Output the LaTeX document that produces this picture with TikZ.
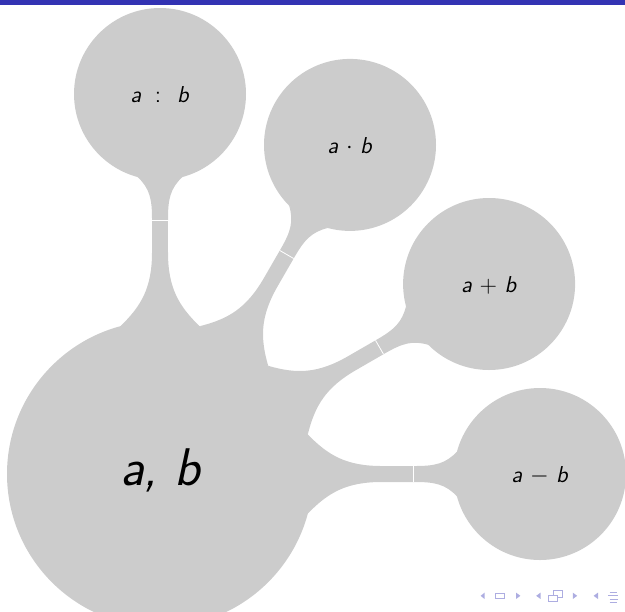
\documentclass[tikz,border=0pt]{standalone}
\usetikzlibrary{calc}
\definecolor{structblue}{RGB}{51,51,179}
\definecolor{navcol}{RGB}{173,173,225}
\tikzset{
  concept/.style={circle, fill=black!20, draw=none, inner sep=0pt,
    font=\fontsize{11.5}{14}\selectfont\sffamily, text height=8.4pt, text depth=0pt},
  childconcept/.style={concept, minimum size=86pt},
  rootconcept/.style={concept, minimum size=153pt,
    font=\fontsize{26.5}{32}\selectfont\sffamily, text height=11pt},
  barfill/.style={fill=black!20},
  seam/.style={draw=white, line width=0.4pt},
  navsym/.style={fill=navcol, draw=none},
  navline/.style={draw=navcol, line width=0.45pt},
}
% tapered connection bar between parent #1 (R=76.5pt) and child #2 (R=43pt)
\newcommand\mmbar[2]{%
  \fill[barfill] let \p1=($(#2.center)-(#1.center)$), \n1={atan2(\y1,\x1)}, \n2={\n1+180} in
    ($(#1.center)+(\n1+15:76.5pt)$)
    .. controls ($(#1.center)+(\n1+6.226:84.65pt)$) and ($(#1.center)+(\n1+2.454:93.416pt)$) ..
    ($(#1.center)+(\n1+2.065:110.997pt)$)
    -- ($(#2.center)+(\n2-3.670:62.478pt)$)
    .. controls ($(#2.center)+(\n2-4.360:52.613pt)$) and ($(#2.center)+(\n2-6.226:47.58pt)$) ..
    ($(#2.center)+(\n2-15:43pt)$)
    -- ($(#2.center)+(\n2+15:43pt)$)
    .. controls ($(#2.center)+(\n2+6.226:47.58pt)$) and ($(#2.center)+(\n2+4.360:52.613pt)$) ..
    ($(#2.center)+(\n2+3.670:62.478pt)$)
    -- ($(#1.center)+(\n1-2.065:110.997pt)$)
    .. controls ($(#1.center)+(\n1-2.454:93.416pt)$) and ($(#1.center)+(\n1-6.226:84.65pt)$) ..
    ($(#1.center)+(\n1-15:76.5pt)$) -- cycle;
  \draw[seam] let \p1=($(#2.center)-(#1.center)$), \n1={atan2(\y1,\x1)},
    \p2=($(#1.center)!0.667!(#2.center)$) in
    ($(\p2)+(\n1+90:4pt)$) -- ($(\p2)+(\n1-90:4pt)$);
}
\begin{document}
\begin{tikzpicture}
\useasboundingbox (0pt,0pt) rectangle (312.5pt,-305.5pt);
% top bar
\fill[structblue] (0pt,0pt) rectangle (312.5pt,-2.5pt);
% concepts
\node[rootconcept] (root) at (80pt,-237pt) {\itshape a, b};
\node[childconcept] (quot) at ($(root)+(90:190pt)$) {\textit{a}\hspace{3pt} : \hspace{3pt}\textit{b}};
\node[childconcept] (prod) at ($(root)+(60:190pt)$) {\textit{a} $\cdot$ \textit{b}};
\node[childconcept] (sum)  at ($(root)+(30:190pt)$) {\textit{a} + \textit{b}};
\node[childconcept] (diff) at ($(root)+(0:190pt)$)  {\textit{a} $-$ \textit{b}};
% connection bars
\mmbar{root}{quot}
\mmbar{root}{prod}
\mmbar{root}{sum}
\mmbar{root}{diff}
% navigation symbols
\fill[navsym] (242.3pt,-296.3pt) -- (242.3pt,-299.5pt) -- (240.3pt,-297.9pt) -- cycle;
\draw[navline] (247.5pt,-296.5pt) rectangle (252.2pt,-299.4pt);
\fill[navsym] (258pt,-296.3pt) -- (258pt,-299.5pt) -- (260.2pt,-297.9pt) -- cycle;
\fill[navsym] (270.3pt,-296.3pt) -- (270.3pt,-299.5pt) -- (268.1pt,-297.9pt) -- cycle;
\draw[navline, fill=white] (276.6pt,-295.3pt) rectangle (281pt,-298.6pt);
\draw[navline, fill=white] (274.4pt,-297.6pt) rectangle (278.8pt,-300.9pt);
\fill[navsym] (286.4pt,-296.3pt) -- (286.4pt,-299.5pt) -- (288.6pt,-297.9pt) -- cycle;
\fill[navsym] (299pt,-296.3pt) -- (299pt,-299.5pt) -- (296.8pt,-297.9pt) -- cycle;
\draw[navline] (304.8pt,-296pt) -- (308.5pt,-296pt);
\draw[navline] (303.9pt,-297.8pt) -- (309.2pt,-297.8pt);
\draw[navline] (304.8pt,-299.5pt) -- (309.2pt,-299.5pt);
\draw[navline] (304.8pt,-301pt) -- (308.5pt,-301pt);
\end{tikzpicture}
\end{document}
